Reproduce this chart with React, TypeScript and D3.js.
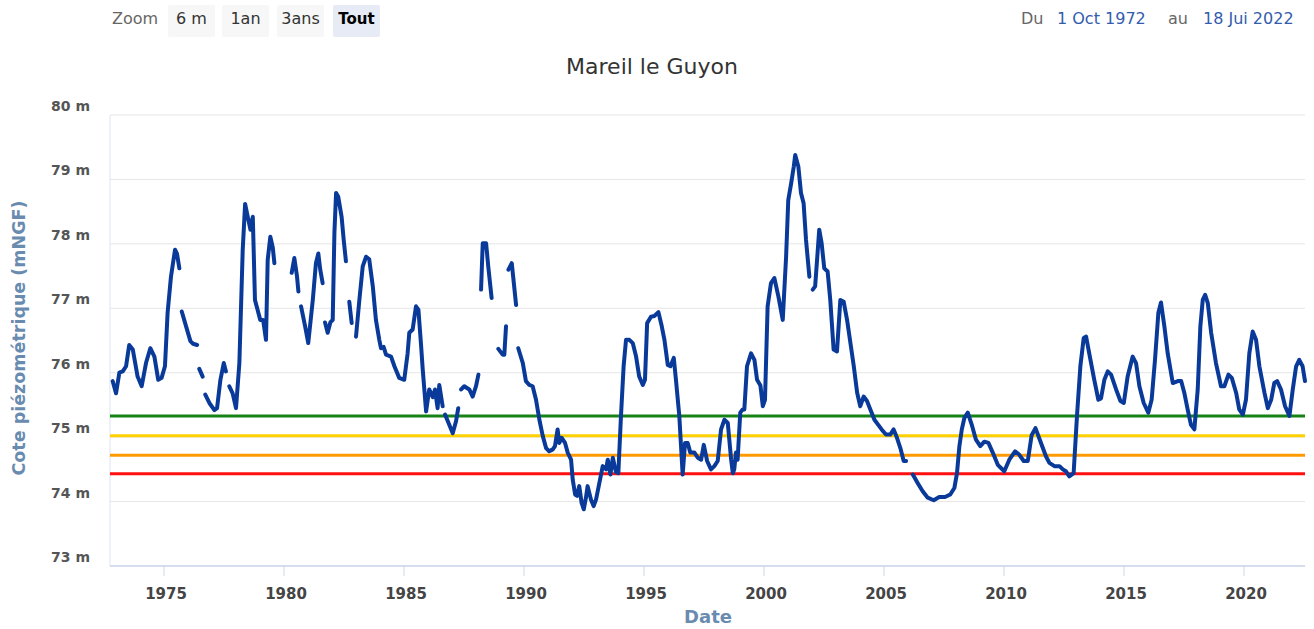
import React from "react";
import * as d3 from "d3";

// ---- Data ----
const chartTitle = "Mareil le Guyon";
const yAxisTitle = "Cote piézométrique (mNGF)";
const xAxisTitle = "Date";
const zoomButtons = ["6 m", "1an", "3ans", "Tout"];
const selectedZoom = "Tout";
const rangeFrom = "1 Oct 1972";
const rangeTo = "18 Jui 2022";
const xDomain = [1972.75, 2022.54];
const yDomain = [73, 80];
const yTicks = [73, 74, 75, 76, 77, 78, 79, 80];
const xTicks = [1975, 1980, 1985, 1990, 1995, 2000, 2005, 2010, 2015, 2020];

// threshold levels (green, yellow, orange, red)
const thresholdLevels = [75.33, 75.02, 74.72, 74.43];
const thresholdColors = ["#178317", "#ffd000", "#ff9a00", "#ff1010"];

// [decimal year, level in m NGF] ; null = gap in measurements
const observations: [number, number | null][] = [
  [1972.86, 75.87], [1973.0, 75.68], [1973.14, 76.0], [1973.28, 76.02], [1973.42, 76.1],
  [1973.55, 76.43], [1973.7, 76.36], [1973.9, 75.94], [1974.07, 75.79], [1974.25, 76.15],
  [1974.43, 76.38], [1974.6, 76.25], [1974.76, 75.89], [1974.9, 75.92], [1975.04, 76.1],
  [1975.15, 76.93], [1975.29, 77.49], [1975.46, 77.91], [1975.54, 77.85], [1975.64, 77.62],
  [1975.69, null],
  [1975.74, 76.95], [1975.92, 76.72], [1976.1, 76.49], [1976.21, 76.45], [1976.38, 76.43],
  [1976.42, null],
  [1976.47, 76.06], [1976.61, 75.94],
  [1976.66, null],
  [1976.72, 75.66], [1976.89, 75.53], [1977.1, 75.42], [1977.21, 75.45], [1977.35, 75.89],
  [1977.49, 76.15], [1977.58, 76.02],
  [1977.65, null],
  [1977.72, 75.79], [1977.86, 75.68], [1978.0, 75.45], [1978.14, 76.15], [1978.28, 77.91],
  [1978.38, 78.62], [1978.49, 78.42], [1978.6, 78.22], [1978.7, 78.42], [1978.79, 77.13],
  [1979.01, 76.82], [1979.13, 76.82], [1979.25, 76.51], [1979.32, 77.75], [1979.43, 78.11],
  [1979.53, 77.95], [1979.6, 77.7],
  [1979.9, null],
  [1980.32, 77.55], [1980.43, 77.78], [1980.54, 77.5], [1980.6, 77.26],
  [1980.65, null],
  [1980.71, 77.03], [1980.88, 76.72], [1981.01, 76.46], [1981.2, 77.13], [1981.33, 77.7],
  [1981.43, 77.85], [1981.51, 77.6], [1981.61, 77.39],
  [1981.66, null],
  [1981.71, 76.78], [1981.82, 76.62], [1981.93, 76.78], [1982.03, 76.82], [1982.1, 78.17],
  [1982.17, 78.79], [1982.26, 78.73], [1982.4, 78.42], [1982.49, 78.05], [1982.58, 77.73],
  [1982.65, null],
  [1982.72, 77.1], [1982.82, 76.77],
  [1982.9, null],
  [1983.0, 76.56], [1983.14, 77.13], [1983.28, 77.65], [1983.42, 77.8], [1983.55, 77.76],
  [1983.7, 77.34], [1983.83, 76.82], [1983.97, 76.51], [1984.04, 76.38], [1984.15, 76.4],
  [1984.25, 76.28], [1984.46, 76.25], [1984.6, 76.1], [1984.8, 75.92], [1985.01, 75.89],
  [1985.15, 76.3], [1985.22, 76.62], [1985.36, 76.67], [1985.5, 77.03], [1985.6, 76.98],
  [1985.71, 76.43], [1985.78, 76.05], [1985.92, 75.4], [1986.05, 75.74], [1986.2, 75.62],
  [1986.29, 75.74], [1986.4, 75.45], [1986.47, 75.81], [1986.61, 75.48],
  [1986.66, null],
  [1986.71, 75.35], [1986.89, 75.19], [1987.03, 75.06], [1987.17, 75.25], [1987.26, 75.45],
  [1987.32, null],
  [1987.38, 75.74], [1987.51, 75.79], [1987.72, 75.74], [1987.86, 75.63], [1988.0, 75.79],
  [1988.1, 75.97],
  [1988.15, null],
  [1988.21, 77.29], [1988.28, 78.01], [1988.42, 78.01], [1988.51, 77.65], [1988.65, 77.16],
  [1988.8, null],
  [1988.93, 76.37], [1989.11, 76.28], [1989.18, 76.28], [1989.25, 76.72],
  [1989.3, null],
  [1989.35, 77.6], [1989.49, 77.7], [1989.67, 77.05],
  [1989.72, null],
  [1989.76, 76.38], [1989.95, 76.15], [1990.08, 75.87], [1990.22, 75.81], [1990.36, 75.79],
  [1990.5, 75.58], [1990.64, 75.27], [1990.78, 75.02], [1990.92, 74.83], [1991.05, 74.78],
  [1991.2, 74.81], [1991.29, 74.86], [1991.4, 75.12], [1991.47, 74.91], [1991.57, 74.99],
  [1991.71, 74.91], [1991.82, 74.76], [1991.96, 74.65], [1992.03, 74.34], [1992.13, 74.11],
  [1992.21, 74.09], [1992.3, 74.24], [1992.4, 73.98], [1992.49, 73.88], [1992.58, 74.06],
  [1992.65, 74.24], [1992.79, 74.03], [1992.9, 73.93], [1993.0, 74.03], [1993.14, 74.29],
  [1993.28, 74.55], [1993.42, 74.5], [1993.49, 74.65], [1993.6, 74.42], [1993.7, 74.68],
  [1993.83, 74.46], [1993.93, 74.44], [1994.04, 75.33], [1994.15, 76.1], [1994.25, 76.51],
  [1994.39, 76.51], [1994.53, 76.46], [1994.67, 76.25], [1994.8, 75.94], [1994.95, 75.81],
  [1995.04, 75.89], [1995.13, 76.77], [1995.29, 76.87], [1995.43, 76.88], [1995.6, 76.94],
  [1995.74, 76.72], [1995.85, 76.51], [1995.99, 76.12], [1996.1, 76.1], [1996.24, 76.23],
  [1996.33, 75.89], [1996.47, 75.33], [1996.61, 74.42], [1996.71, 74.91], [1996.82, 74.91],
  [1996.93, 74.76], [1997.1, 74.76], [1997.24, 74.68], [1997.38, 74.65], [1997.49, 74.88],
  [1997.63, 74.63], [1997.79, 74.5], [1997.93, 74.55], [1998.07, 74.63], [1998.21, 75.12],
  [1998.35, 75.27], [1998.49, 75.22], [1998.63, 74.65], [1998.7, 74.44], [1998.76, 74.5],
  [1998.83, 74.76], [1998.9, 74.65], [1999.01, 75.38], [1999.11, 75.43], [1999.18, 75.43],
  [1999.29, 76.1], [1999.46, 76.3], [1999.6, 76.2], [1999.71, 75.89], [1999.85, 75.8],
  [1999.95, 75.48], [2000.04, 75.58], [2000.15, 77.03], [2000.29, 77.39], [2000.43, 77.47],
  [2000.6, 77.18], [2000.78, 76.82], [2000.92, 77.8], [2001.01, 78.68], [2001.13, 78.94],
  [2001.24, 79.2], [2001.3, 79.38], [2001.43, 79.2], [2001.54, 78.79], [2001.65, 78.63],
  [2001.75, 78.06], [2001.89, 77.49],
  [2001.96, null],
  [2002.03, 77.29], [2002.13, 77.34], [2002.21, 77.75], [2002.3, 78.22], [2002.4, 78.01],
  [2002.51, 77.62], [2002.65, 77.57], [2002.76, 77.13], [2002.9, 76.36], [2003.04, 76.33],
  [2003.18, 77.13], [2003.32, 77.1], [2003.46, 76.82], [2003.6, 76.46], [2003.74, 76.1],
  [2003.88, 75.69], [2004.01, 75.48], [2004.15, 75.63], [2004.29, 75.56], [2004.43, 75.43],
  [2004.6, 75.27], [2004.76, 75.19], [2004.9, 75.12], [2005.08, 75.04], [2005.26, 75.04],
  [2005.4, 75.12], [2005.54, 74.99], [2005.68, 74.83], [2005.82, 74.63], [2005.92, 74.63],
  [2006.06, null],
  [2006.2, 74.42], [2006.4, 74.29], [2006.61, 74.16], [2006.82, 74.06], [2007.07, 74.02],
  [2007.3, 74.07], [2007.54, 74.07], [2007.76, 74.11], [2007.93, 74.21], [2008.04, 74.44],
  [2008.14, 74.86], [2008.24, 75.12], [2008.35, 75.3], [2008.49, 75.38], [2008.65, 75.2],
  [2008.83, 74.96], [2009.01, 74.86], [2009.18, 74.93], [2009.35, 74.91], [2009.53, 74.76],
  [2009.74, 74.57], [2010.01, 74.47], [2010.22, 74.65], [2010.46, 74.78], [2010.63, 74.73],
  [2010.82, 74.63], [2010.99, 74.63], [2011.15, 75.03], [2011.31, 75.14], [2011.54, 74.91],
  [2011.75, 74.7], [2011.89, 74.6], [2012.1, 74.55], [2012.31, 74.55], [2012.45, 74.5],
  [2012.58, 74.47], [2012.72, 74.39], [2012.9, 74.44], [2013.04, 75.33], [2013.18, 76.1],
  [2013.32, 76.54], [2013.42, 76.56], [2013.55, 76.3], [2013.76, 75.89], [2013.93, 75.58],
  [2014.04, 75.6], [2014.18, 75.89], [2014.32, 76.02], [2014.46, 75.97], [2014.67, 75.74],
  [2014.85, 75.56], [2014.99, 75.53], [2015.15, 75.94], [2015.36, 76.25], [2015.5, 76.15],
  [2015.64, 75.79], [2015.82, 75.53], [2016.01, 75.38], [2016.15, 75.58], [2016.29, 76.2],
  [2016.43, 76.93], [2016.54, 77.09], [2016.68, 76.72], [2016.82, 76.3], [2017.03, 75.84],
  [2017.24, 75.87], [2017.38, 75.87], [2017.51, 75.69], [2017.65, 75.43], [2017.79, 75.19],
  [2017.93, 75.12], [2018.07, 75.74], [2018.18, 76.72], [2018.28, 77.13], [2018.38, 77.21],
  [2018.49, 77.08], [2018.63, 76.62], [2018.83, 76.15], [2019.04, 75.79], [2019.18, 75.79],
  [2019.35, 75.97], [2019.49, 75.92], [2019.67, 75.69], [2019.8, 75.43], [2019.95, 75.35],
  [2020.08, 75.58], [2020.22, 76.3], [2020.36, 76.64], [2020.5, 76.51], [2020.64, 76.1],
  [2020.85, 75.69], [2020.99, 75.45], [2021.13, 75.58], [2021.26, 75.84], [2021.38, 75.87],
  [2021.54, 75.74], [2021.71, 75.48], [2021.89, 75.33], [2022.03, 75.74], [2022.17, 76.1],
  [2022.3, 76.2], [2022.44, 76.1], [2022.54, 75.87],
];

const W = 1314;
const H = 629;
const plot = { left: 110, right: 1305, top: 115, bottom: 566 };
const FONT = "'DejaVu Sans', Verdana, sans-serif";

export default function App() {
  const x = d3.scaleLinear().domain(xDomain).range([plot.left, plot.right]);
  const y = d3.scaleLinear().domain(yDomain).range([plot.bottom, plot.top]);

  const line = d3
    .line<[number, number | null]>()
    .defined((d) => d[1] !== null)
    .x((d) => x(d[0]))
    .y((d) => y(d[1] as number))
    .curve(d3.curveLinear);

  const btnX = [168, 222, 277, 333];
  const btnW = 47;

  return (
    <svg
      width={W}
      height={H}
      style={{ position: "absolute", left: 0, top: 0, display: "block", background: "#fff" }}
      fontFamily={FONT}
    >
      <rect x={0} y={0} width={W} height={H} fill="#ffffff" />

      {/* range selector buttons */}
      <text x={112} y={24} fontSize={16} fill="#666666">Zoom</text>
      {zoomButtons.map((b, i) => {
        const sel = b === selectedZoom;
        return (
          <g key={b}>
            <rect x={btnX[i]} y={5} width={btnW} height={32} rx={2} fill={sel ? "#e6ebf5" : "#f7f7f7"} />
            <text
              x={btnX[i] + btnW / 2}
              y={24}
              textAnchor="middle"
              fontSize={sel ? 15 : 16}
              fontWeight={sel ? "bold" : "normal"}
              fill={sel ? "#000000" : "#333333"}
            >
              {b}
            </text>
          </g>
        );
      })}

      {/* range inputs */}
      <text x={1021} y={24} fontSize={16} fill="#666666">Du</text>
      <text x={1057} y={24} fontSize={16} fill="#335cad">{rangeFrom}</text>
      <text x={1168} y={24} fontSize={16} fill="#666666">au</text>
      <text x={1203} y={24} fontSize={16} fill="#335cad">{rangeTo}</text>

      {/* title */}
      <text x={652} y={74} textAnchor="middle" fontSize={22} fill="#333333">{chartTitle}</text>

      {/* grid lines */}
      {yTicks.map((t) => (
        <line key={"g" + t} x1={plot.left} x2={plot.right} y1={y(t)} y2={y(t)} stroke="#e6e6e6" strokeWidth={1} />
      ))}
      {/* y axis line */}
      <line x1={plot.left} x2={plot.left} y1={plot.top} y2={plot.bottom} stroke="#dde3ee" strokeWidth={1} />
      {/* x axis line */}
      <line x1={plot.left} x2={plot.right} y1={plot.bottom} y2={plot.bottom} stroke="#ccd6eb" strokeWidth={1.5} />
      {xTicks.map((t) => (
        <line key={"t" + t} x1={x(t)} x2={x(t)} y1={plot.bottom} y2={plot.bottom + 10} stroke="#ccd6eb" strokeWidth={1} />
      ))}

      {/* y labels */}
      {yTicks.map((t) => (
        <text key={"yl" + t} x={90} y={y(t) - 4} textAnchor="end" fontSize={14} fontWeight="bold" fill="#555555">
          {`${t} m`}
        </text>
      ))}
      {/* x labels */}
      {xTicks.map((t) => (
        <text key={"xl" + t} x={x(t) + 2} y={599} textAnchor="middle" fontSize={15} fontWeight="bold" fill="#444444">
          {t}
        </text>
      ))}

      {/* axis titles */}
      <text
        transform={`translate(25, 338) rotate(-90)`}
        textAnchor="middle"
        fontSize={17.5}
        fontWeight="bold"
        fill="#6a8bb0"
      >
        {yAxisTitle}
      </text>
      <text x={708} y={623} textAnchor="middle" fontSize={18} fontWeight="bold" fill="#6a8bb0">
        {xAxisTitle}
      </text>

      {/* thresholds */}
      {thresholdLevels.map((v, i) => (
        <line key={"th" + i} x1={plot.left} x2={plot.right} y1={y(v)} y2={y(v)} stroke={thresholdColors[i]} strokeWidth={3} />
      ))}

      {/* series */}
      <path d={line(observations) || ""} fill="none" stroke="#0a3a99" strokeWidth={4} strokeLinejoin="round" strokeLinecap="round" />
    </svg>
  );
}
